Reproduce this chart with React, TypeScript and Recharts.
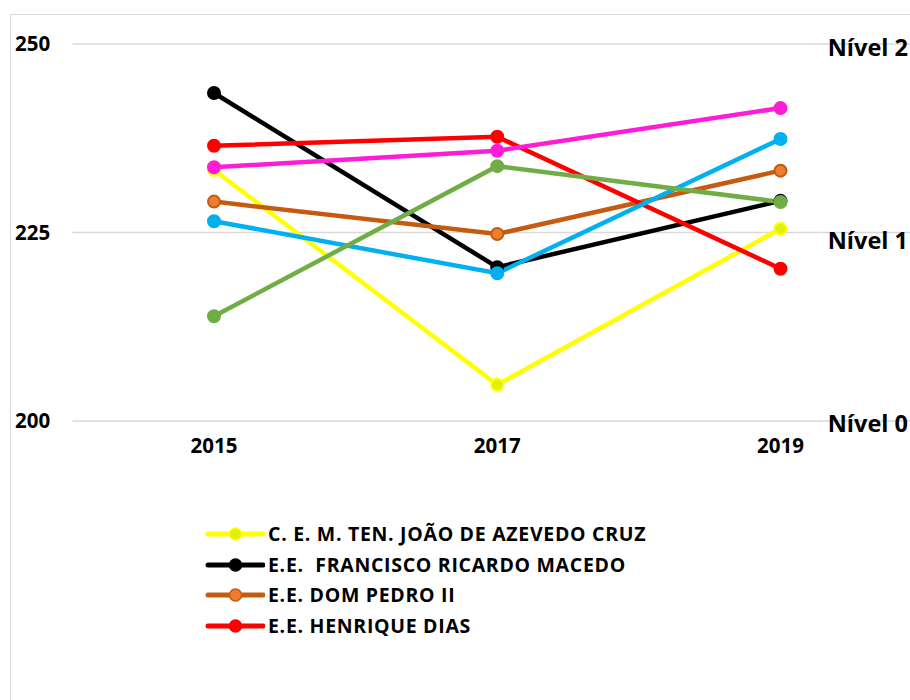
import React from 'react';
import { LineChart, Line, XAxis, YAxis, CartesianGrid, Legend, ReferenceLine } from 'recharts';

const YEARS = ['2015', '2017', '2019'];
const JOAO = [233.3, 204.8, 225.5];
const FRANCISCO = [243.5, 220.4, 229.2];
const DOM_PEDRO = [229.1, 224.8, 233.2];
const HENRIQUE = [236.5, 237.7, 220.2];
const SERIE5 = [233.65, 235.85, 241.5];
const SERIE6 = [226.5, 219.6, 237.4];
const SERIE7 = [213.9, 233.8, 229.05];
const Y_TICKS = [200, 225, 250];
const NIVEL_LABELS = ['Nível 0', 'Nível 1', 'Nível 2'];

// label text-box vertical nudges (style only)
const NIVEL_DY = [11, 16, 12];

const SERIES = [
  { key: 'joao', name: 'C. E. M. TEN. JOÃO DE AZEVEDO CRUZ', values: JOAO, stroke: '#FFFF00', dot: '#E0F00C', legend: true },
  { key: 'francisco', name: 'E.E.  FRANCISCO RICARDO MACEDO', values: FRANCISCO, stroke: '#000000', dot: '#000000', legend: true },
  { key: 'dompedro', name: 'E.E. DOM PEDRO II', values: DOM_PEDRO, stroke: '#C55A11', dot: '#ED7D31', legend: true },
  { key: 'henrique', name: 'E.E. HENRIQUE DIAS', values: HENRIQUE, stroke: '#FF0000', dot: '#FF0000', legend: true },
  { key: 's5', name: 'Escola 5', values: SERIE5, stroke: '#FF1CD6', dot: '#FF1CD6', legend: false },
  { key: 's6', name: 'Escola 6', values: SERIE6, stroke: '#00B0F0', dot: '#00B0F0', legend: false },
  { key: 's7', name: 'Escola 7', values: SERIE7, stroke: '#70AD47', dot: '#70AD47', legend: false },
];

const data = YEARS.map((year, i) => {
  const row: Record<string, any> = { year };
  SERIES.forEach((s) => {
    row[s.key] = s.values[i];
  });
  return row;
});

const FONT = '"Open Sans", Lato, sans-serif';

const LeftTick = (props: any) => {
  const { y, payload } = props;
  return (
    <text x={15} y={y} dy={7} textAnchor="start" fontFamily={FONT} fontWeight={700} fontSize={20.5} fill="#000">
      {payload.value}
    </text>
  );
};

const XTick = (props: any) => {
  const { x, y, payload } = props;
  return (
    <text x={x} y={y} dy={24} textAnchor="middle" fontFamily={FONT} fontWeight={700} fontSize={20.5} fill="#000">
      {payload.value}
    </text>
  );
};

const makeNivelLabel = (text: string, dy: number) => (props: any) => {
  const vb = props.viewBox || {};
  return (
    <text
      x={vb.x + vb.width - 14}
      y={vb.y}
      dy={dy}
      textAnchor="end"
      fontFamily={FONT}
      fontWeight={700}
      fontSize={23.5}
      fill="#000"
    >
      {text}
    </text>
  );
};

const LegendContent = (props: any) => {
  const { payload } = props;
  return (
    <div>
      {(payload || []).map((entry: any) => {
        const s = SERIES.find((d) => d.key === entry.dataKey);
        if (!s || !s.legend) return null;
        return (
          <div key={s.key} style={{ display: 'flex', alignItems: 'center', height: 30.5 }}>
            <svg width={60} height={20} style={{ flex: 'none' }}>
              <line x1={3} x2={58} y1={10} y2={10} stroke={s.stroke} strokeWidth={5} strokeLinecap="round" />
              <circle cx={30.5} cy={10} r={6} fill={s.dot} stroke={s.stroke} strokeWidth={1.5} />
            </svg>
            <span
              style={{
                marginLeft: 3,
                fontFamily: FONT,
                fontWeight: 700,
                fontSize: 19.5,
                letterSpacing: 0.7,
                color: '#000',
                whiteSpace: 'pre',
                lineHeight: '20px',
              }}
            >
              {s.name}
            </span>
          </div>
        );
      })}
    </div>
  );
};

export default function App() {
  return (
    <div style={{ position: 'fixed', left: 0, top: 0, width: 910, height: 700, overflow: 'hidden', background: '#fff' }}>
      <div
        style={{
          position: 'absolute',
          left: 10,
          top: 14,
          width: 1000,
          height: 1000,
          borderLeft: '1.5px solid #d9d9d9',
          borderTop: '1.5px solid #d9d9d9',
        }}
      />
      <div style={{ position: 'absolute', left: 0, top: 0 }}>
        <LineChart width={922} height={700} data={data} margin={{ top: 44, right: 0, bottom: 219, left: 0 }}>
          <CartesianGrid vertical={false} stroke="#d9d9d9" strokeWidth={1.5} />
          <XAxis
            dataKey="year"
            height={60}
            padding={{ left: 141.5, right: 141.5 }}
            axisLine={false}
            tickLine={false}
            tick={<XTick />}
          />
          <YAxis
            width={72.5}
            domain={[200, 250]}
            ticks={Y_TICKS}
            axisLine={false}
            tickLine={false}
            tick={<LeftTick />}
          />
          {Y_TICKS.map((v, i) => (
            <ReferenceLine key={v} y={v} stroke="none" label={makeNivelLabel(NIVEL_LABELS[i], NIVEL_DY[i])} />
          ))}
          <Legend
            layout="horizontal"
            verticalAlign="middle"
            align="center"
            wrapperStyle={{ left: 205, top: 519, width: 560 }}
            content={<LegendContent />}
          />
          {SERIES.map((s) => (
            <Line
              key={s.key}
              type="linear"
              dataKey={s.key}
              name={s.name}
              stroke={s.stroke}
              strokeWidth={4.5}
              legendType={s.legend ? 'line' : 'none'}
              dot={{ r: 6, fill: s.dot, stroke: s.stroke, strokeWidth: 2 }}
              activeDot={false}
              isAnimationActive={false}
            />
          ))}
        </LineChart>
      </div>
    </div>
  );
}
